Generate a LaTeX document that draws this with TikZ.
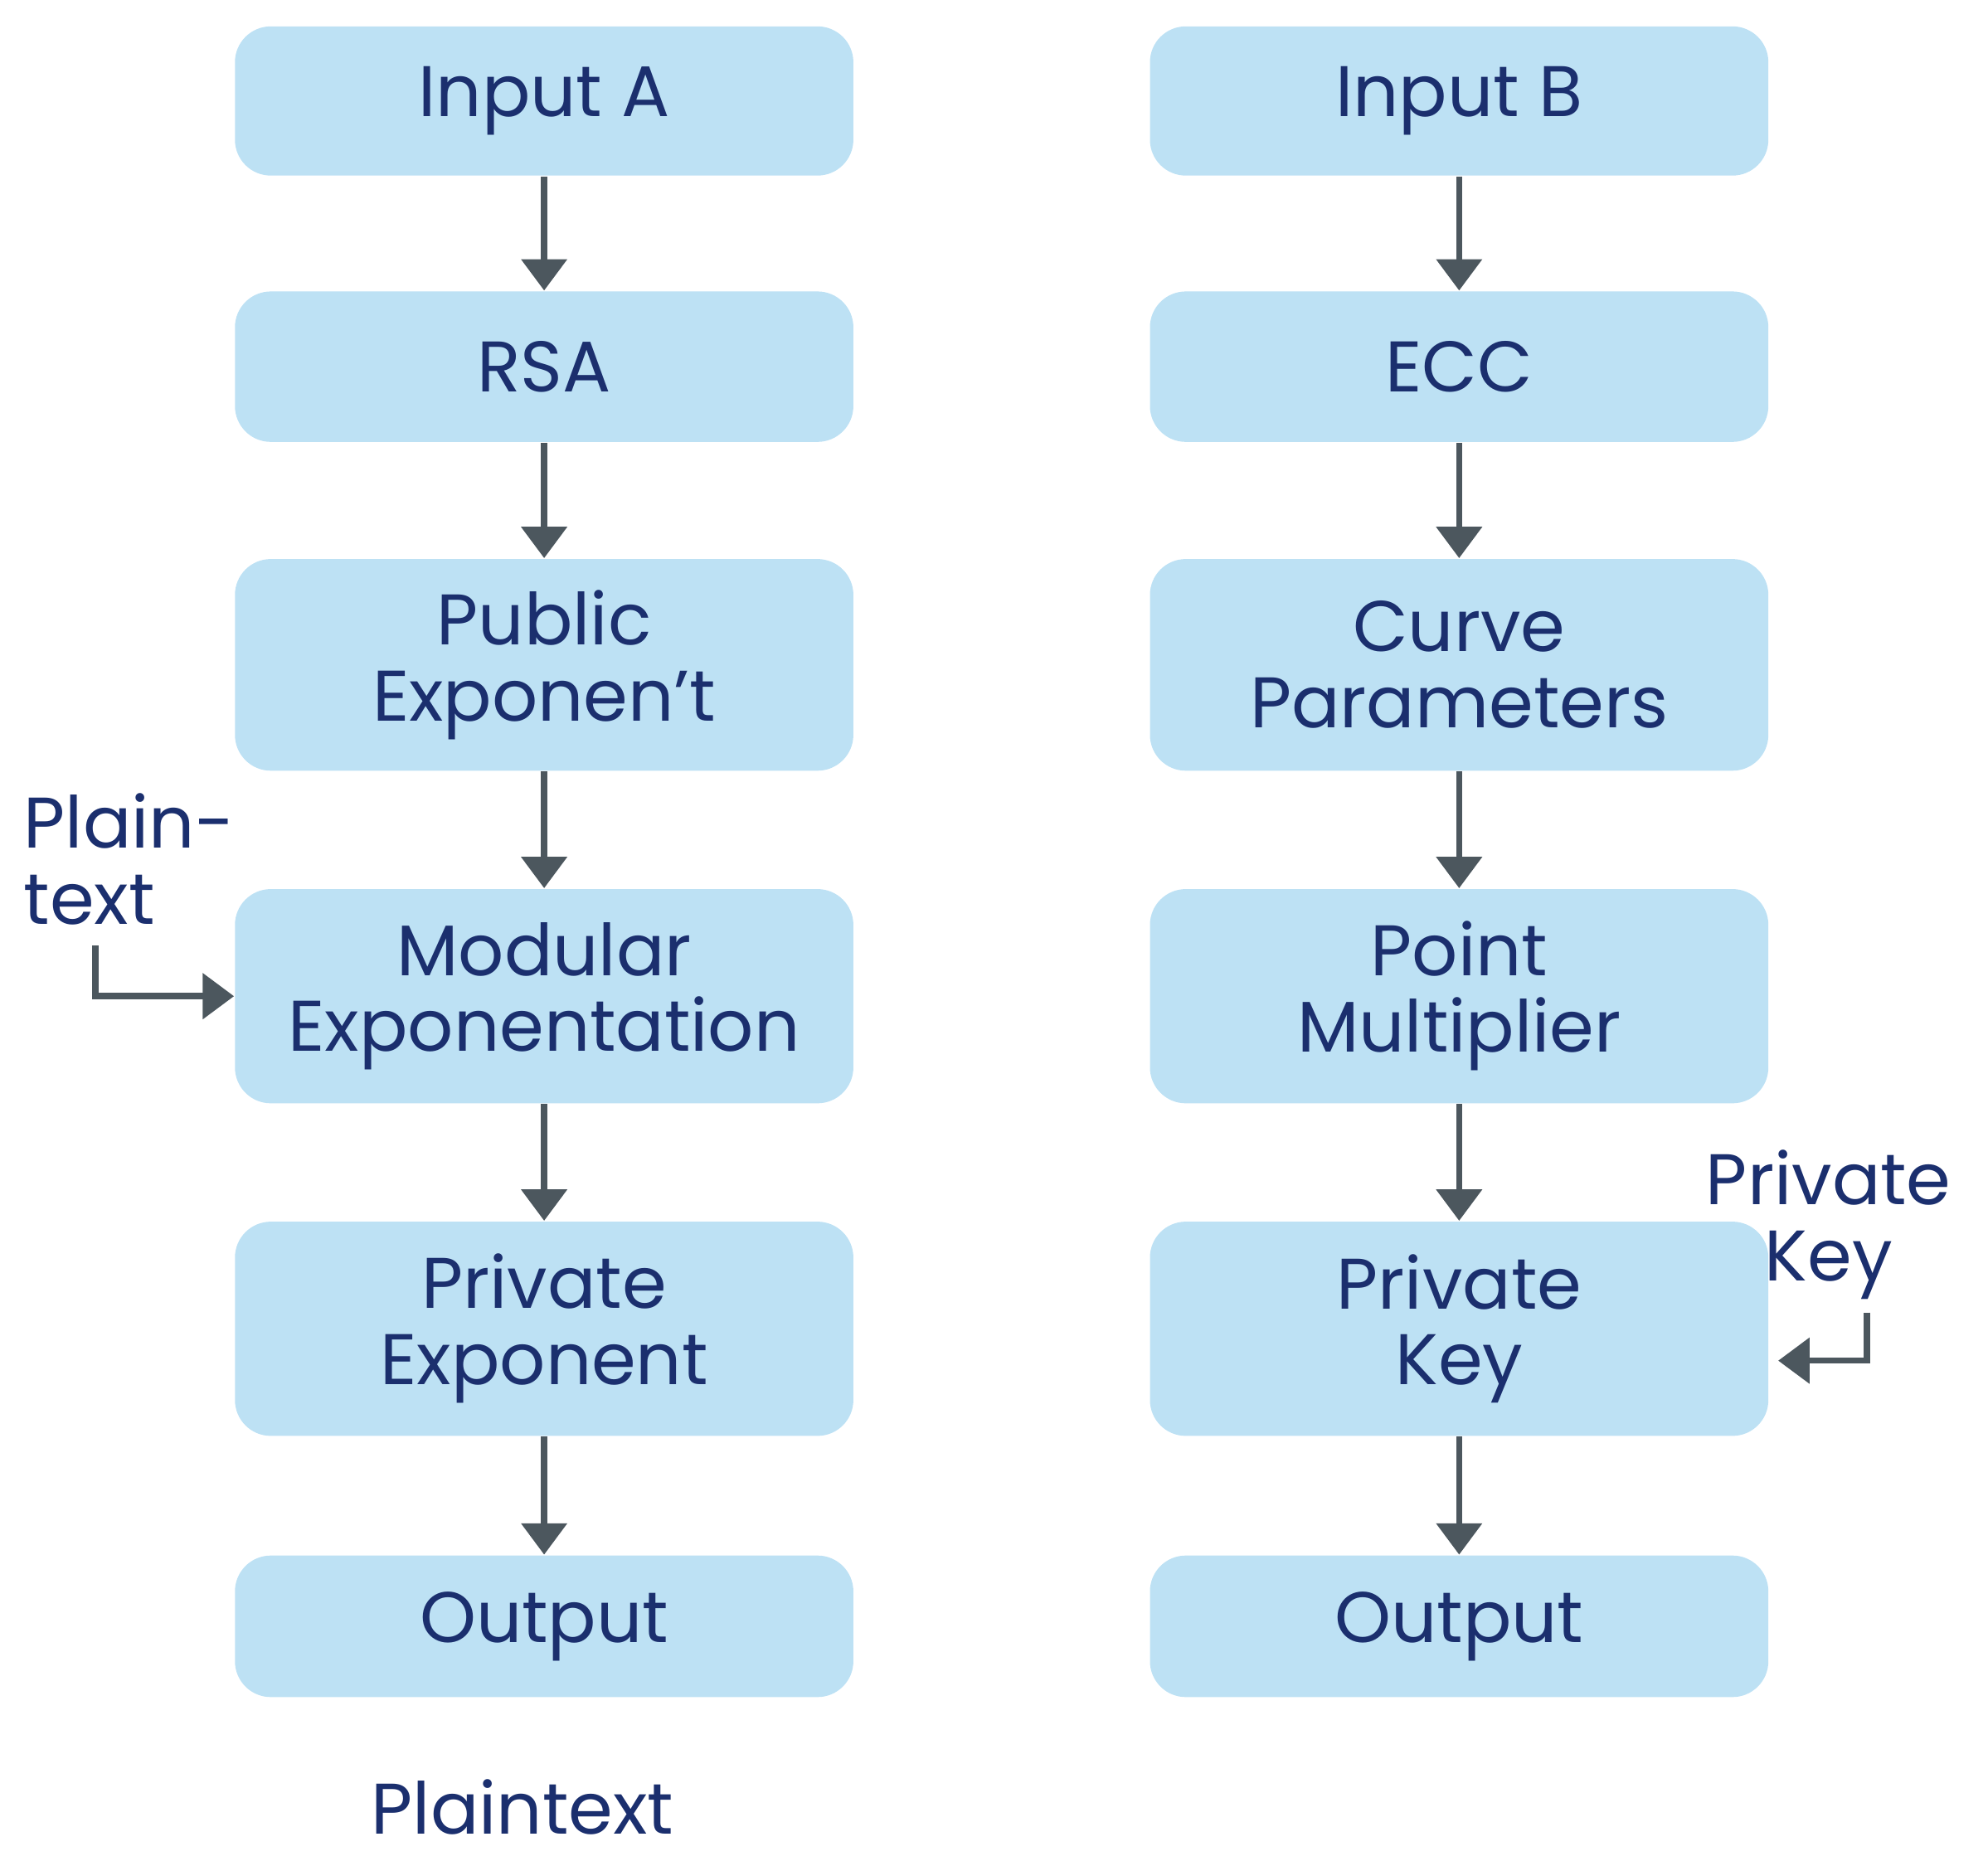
\documentclass[tikz,border=0pt]{standalone}
\usepackage{fontspec}
\setmainfont{Poppins}
\usetikzlibrary{arrows.meta}
\definecolor{boxfill}{HTML}{BDE1F4}
\definecolor{txt}{HTML}{1B2F6E}
\definecolor{arr}{HTML}{4C575E}
\begin{document}
\begin{tikzpicture}[x=0.01cm,y=-0.01cm,
  box/.style={fill=boxfill,rounded corners=8pt,minimum width=4.85cm,inner sep=0pt,align=center,text=txt,font=\fontsize{16}{17}\selectfont,anchor=north},
  lab/.style={text=txt,font=\fontsize{16}{17}\selectfont,align=left},
  ar/.style={draw=arr,line width=1.4pt,-{Triangle[length=7pt,width=10pt]}}]
\useasboundingbox (0,0) rectangle (1560,1460);
\foreach \n/\x in {L/427,R/1145}{
}
\node[box,minimum height=1.17cm] (a1) at (427,20) {Input A};
\node[box,minimum height=1.18cm] (a2) at (427,228) {RSA};
\node[box,minimum height=1.66cm] (a3) at (427,438) {Public\\Exponen't};
\node[box,minimum height=1.68cm] (a4) at (427,697) {Modular\\Exponentation};
\node[box,minimum height=1.68cm] (a5) at (427,958) {Private\\Exponent};
\node[box,minimum height=1.11cm] (a6) at (427,1220) {Output};
\node[box,minimum height=1.17cm] (b1) at (1145,20) {Input B};
\node[box,minimum height=1.18cm] (b2) at (1145,228) {ECC};
\node[box,minimum height=1.66cm] (b3) at (1145,438) {Curve\\Parameters};
\node[box,minimum height=1.68cm] (b4) at (1145,697) {Point\\Multiplier};
\node[box,minimum height=1.68cm] (b5) at (1145,958) {Private\\Key};
\node[box,minimum height=1.11cm] (b6) at (1145,1220) {Output};
\foreach \p/\q in {a1/a2,a2/a3,a3/a4,a4/a5,a5/a6,b1/b2,b2/b3,b3/b4,b4/b5,b5/b6}
  \draw[ar] (\p.south) -- (\q.north);
\node[lab] (pt) at (410,1418) {Plaintext};
\node[lab,anchor=north west,inner sep=0pt] (pl) at (18,622) {Plain-\\text};
\coordinate (c1) at (75,742);
\draw[draw=arr,line width=1.4pt,-{Triangle[length=7pt,width=10pt]}] (c1) |- (a4.west);
\node[lab,anchor=north west,inner sep=0pt,align=center] (pk) at (1338,902) {Private\\Key};
\coordinate (c2) at (1465,1030);
\draw[ar] (c2) |- ([xshift=2pt,yshift=-0.25cm]b5.east);
\end{tikzpicture}
\end{document}
